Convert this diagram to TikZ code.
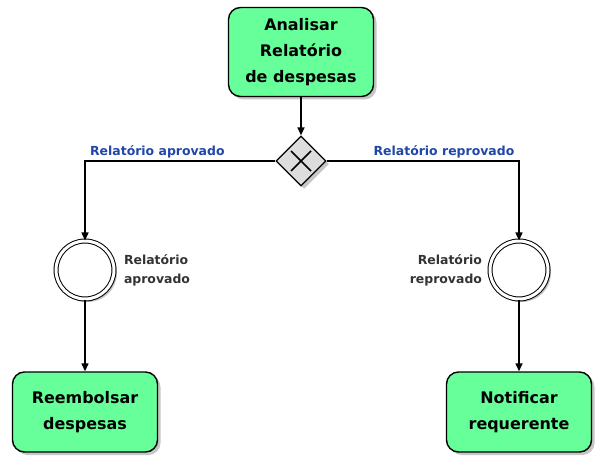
\documentclass[tikz,border=0pt]{standalone}
\usepackage{fontspec}
\setmainfont{DejaVu Sans}
\usepackage{tikz}
\usetikzlibrary{arrows.meta,positioning,shapes.geometric,shadows,calc}
\definecolor{taskgreen}{HTML}{66FF99}
\definecolor{gwgray}{HTML}{DDDDDD}
\definecolor{flowblue}{HTML}{1F46A8}

\begin{document}
\begin{tikzpicture}[x=1bp, y=-1bp,
  task/.style={draw, line width=1.4bp, rounded corners=12bp, fill=taskgreen, minimum width=145bp, align=center, font=\fontsize{16}{26}\selectfont\bfseries, drop shadow={shadow xshift=3bp, shadow yshift=-3bp, opacity=0.45}},
  gateway/.style={draw, line width=1.2bp, diamond, fill=gwgray, minimum width=50bp, minimum height=50bp, inner sep=0pt, drop shadow={shadow xshift=3bp, shadow yshift=-3bp, opacity=0.45}},
  event/.style={circle, draw, line width=1bp, fill=white, minimum size=58bp, inner sep=0pt, double=white, double distance=3bp, drop shadow={shadow xshift=3bp, shadow yshift=-3bp, opacity=0.45}},
  evlabel/.style={font=\fontsize{12.5}{19}\selectfont\bfseries, text=black!80},
  flowlabel/.style={font=\fontsize{12.5}{14}\selectfont\bfseries, text=flowblue, above, inner sep=2bp},
  arr/.style={-{Triangle[length=8bp, width=7bp]}, line width=1.4bp}
]
\useasboundingbox (0,0) rectangle (596,464);

\node[task, minimum height=89bp] (analisar) at (301,52) {Analisar\\Relatório\\de despesas};
\node[gateway] (gw) at (301,161) {};
\draw[line width=1.6bp] ($(gw.center)+(-10,-10)$) -- ($(gw.center)+(10,10)$)
  ($(gw.center)+(-10,10)$) -- ($(gw.center)+(10,-10)$);

\node[event] (aprovado) at (85,270) {};
\node[event] (reprovado) at (519,270) {};
\node[evlabel, right=6bp of aprovado, align=left] (aprlabel) {Relatório\\aprovado};
\node[evlabel, left=4bp of reprovado, align=right] (reprlabel) {Relatório\\reprovado};

\node[task, minimum height=80bp] (reembolsar) at (85,412) {Reembolsar\\despesas};
\node[task, minimum height=80bp] (notificar) at (519,412) {Notificar\\requerente};

\draw[arr] (analisar) -- (gw);
\draw[arr] (gw.west) -| (aprovado.north) node[flowlabel, pos=0.31] {Relatório aprovado};
\draw[arr] (gw.east) -| (reprovado.north) node[flowlabel, pos=0.305] {Relatório reprovado};
\draw[arr] (aprovado) -- (reembolsar);
\draw[arr] (reprovado) -- (notificar);
\end{tikzpicture}
\end{document}
